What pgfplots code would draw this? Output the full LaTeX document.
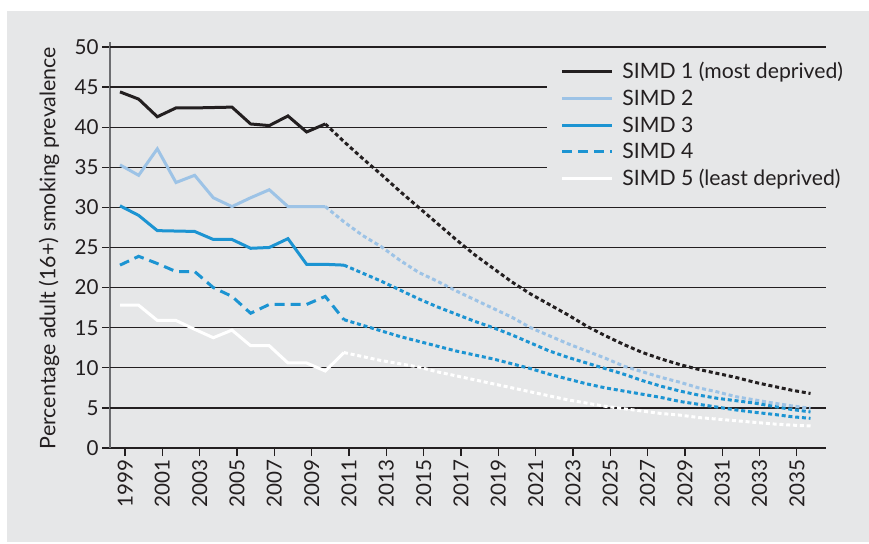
\documentclass[border=0pt]{standalone}
\usepackage{fontspec}
\setmainfont{Lato}
\usepackage{pgfplots}
\pgfplotsset{compat=1.18}
\definecolor{bg}{HTML}{E6E7E8}
\definecolor{simdblack}{HTML}{231F20}
\definecolor{simdlight}{HTML}{9DC3E6}
\definecolor{simdmid}{HTML}{1C94D2}
\definecolor{axisgray}{HTML}{6D6E71}

\begin{document}
\begin{tikzpicture}
\fill[white] (-55pt,-47.5pt) rectangle (379.5pt,224pt);
\fill[bg] (-51.5pt,-47pt) rectangle (379.5pt,218.5pt);
\begin{axis}[
  at={(0,0)}, anchor=south west,
  scale only axis, width=358pt, height=203pt,
  xmin=1998.464, xmax=2036.83, ymin=0, ymax=50.62,
  axis x line=bottom, axis y line=left,
  axis line style={-},
  x axis line style={simdblack, line width=0.6pt},
  y axis line style={axisgray, line width=1pt},
  ytick={0,5,...,50},
  xtick={1999.27,2001.27,2003.27,2005.27,2007.27,2009.27,2011.27,2013.27,2015.27,2017.27,2019.27,2021.27,2023.27,2025.27,2027.27,2029.27,2031.27,2033.27,2035.27},
  xticklabels={1999,2001,2003,2005,2007,2009,2011,2013,2015,2017,2019,2021,2023,2025,2027,2029,2031,2033,2035},
  tick align=outside, major tick length=4pt,
  tick style={simdblack, line width=0.6pt},
  /pgf/number format/assume math mode=true,
  ticklabel style={font=\fontsize{10.3}{12}\selectfont, text=simdblack},
  xticklabel style={rotate=90, anchor=east, inner sep=1.5pt},
  yticklabel style={inner sep=1.5pt},
  every axis plot/.append style={line width=1.5pt},
]
% horizontal grid; the three under the legend stop short of it
\pgfplotsinvokeforeach{5,10,15,20,25,30,50}{
  \draw[simdblack, line width=0.6pt] (axis cs:1998.464,#1) -- (axis cs:2036.83,#1);
}
\pgfplotsinvokeforeach{35,40,45}{
  \draw[simdblack, line width=0.6pt] (axis cs:1998.464,#1) -- (axis cs:2021.88,#1);
}
% observed
\addplot[simdblack] coordinates {(1999,44.4)(2000,43.5)(2001,41.3)(2002,42.4)(2003,42.4)(2004,42.45)(2005,42.5)(2006,40.4)(2007,40.2)(2008,41.4)(2009,39.4)(2010,40.4)};
\addplot[simdlight] coordinates {(1999,35.3)(2000,34.0)(2001,37.3)(2002,33.1)(2003,34.0)(2004,31.2)(2005,30.1)(2006,31.2)(2007,32.2)(2008,30.1)(2009,30.1)(2010,30.1)};
\addplot[simdmid] coordinates {(1999,30.2)(2000,29.0)(2001,27.1)(2002,27.05)(2003,27.0)(2004,26.0)(2005,26.0)(2006,24.9)(2007,25.0)(2008,26.1)(2009,22.9)(2010,22.9)(2011,22.8)};
\addplot[simdmid, dash pattern=on 5pt off 3pt] coordinates {(1999,22.8)(2000,23.9)(2001,23.0)(2002,22.0)(2003,22.0)(2004,20.0)(2005,18.9)(2006,16.8)(2007,17.9)(2008,17.9)(2009,17.9)(2010,18.9)(2011,16.0)};
\addplot[white] coordinates {(1999,17.8)(2000,17.8)(2001,15.9)(2002,15.9)(2003,14.8)(2004,13.75)(2005,14.7)(2006,12.75)(2007,12.75)(2008,10.6)(2009,10.6)(2010,9.6)(2011,11.9)};
% projections
\addplot[simdblack, dash pattern=on 2pt off 1.4pt] coordinates {(2010,40.4)(2011,38.2)(2012,36.1)(2013,34.1)(2014,32.0)(2015,30.0)(2016,28.0)(2017,26.0)(2018,24.1)(2019,22.4)(2020,20.7)(2021,19.2)(2022,17.9)(2023,16.6)(2024,15.2)(2025,14.0)(2026,12.9)(2027,11.9)(2028,11.1)(2029,10.4)(2030,9.8)(2031,9.3)(2032,8.8)(2033,8.2)(2034,7.7)(2035,7.2)(2036,6.8)};
\addplot[simdlight, dash pattern=on 2pt off 1.4pt] coordinates {(2010,30.1)(2011,28.2)(2012,26.5)(2013,25.1)(2014,23.4)(2015,21.9)(2016,20.8)(2017,19.6)(2018,18.5)(2019,17.4)(2020,16.3)(2021,15.0)(2022,14.0)(2023,13.0)(2024,12.1)(2025,11.2)(2026,10.2)(2027,9.5)(2028,8.8)(2029,8.2)(2030,7.5)(2031,7.0)(2032,6.4)(2033,6.0)(2034,5.6)(2035,5.25)(2036,4.95)};
\addplot[simdmid, dash pattern=on 2pt off 1.4pt] coordinates {(2011,22.8)(2012,21.8)(2013,20.8)(2014,19.7)(2015,18.6)(2016,17.6)(2017,16.7)(2018,15.8)(2019,15.0)(2020,14.1)(2021,13.1)(2022,12.1)(2023,11.3)(2024,10.6)(2025,9.9)(2026,9.2)(2027,8.4)(2028,7.7)(2029,7.1)(2030,6.6)(2031,6.2)(2032,5.9)(2033,5.6)(2034,5.2)(2035,4.8)(2036,4.5)};
\addplot[simdmid, dash pattern=on 2pt off 1.4pt] coordinates {(2011,16.0)(2012,15.3)(2013,14.6)(2014,13.9)(2015,13.3)(2016,12.7)(2017,12.1)(2018,11.6)(2019,11.1)(2020,10.5)(2021,9.9)(2022,9.2)(2023,8.6)(2024,8.0)(2025,7.5)(2026,7.1)(2027,6.7)(2028,6.3)(2029,5.8)(2030,5.45)(2031,5.1)(2032,4.75)(2033,4.45)(2034,4.2)(2035,3.9)(2036,3.7)};
\addplot[white, dash pattern=on 2pt off 1.4pt] coordinates {(2011,11.9)(2012,11.4)(2013,10.9)(2014,10.5)(2015,10.1)(2016,9.5)(2017,9.0)(2018,8.5)(2019,8.0)(2020,7.5)(2021,7.0)(2022,6.5)(2023,6.0)(2024,5.6)(2025,5.2)(2026,4.9)(2027,4.6)(2028,4.3)(2029,4.1)(2030,3.8)(2031,3.6)(2032,3.4)(2033,3.2)(2034,3.0)(2035,2.85)(2036,2.75)};
\end{axis}
% legend
\begin{scope}[line width=1.5pt]
  \draw[simdblack] (226pt,188.5pt) -- (251pt,188.5pt);
  \draw[simdlight] (226pt,175pt) -- (251pt,175pt);
  \draw[simdmid] (226pt,161.5pt) -- (251pt,161.5pt);
  \draw[simdmid, dash pattern=on 5pt off 3pt] (226pt,148.5pt) -- (251pt,148.5pt);
  \draw[white] (226pt,135pt) -- (251pt,135pt);
\end{scope}
\begin{scope}[every node/.style={anchor=base west, inner sep=0pt, font=\fontsize{10.6}{12}\selectfont, text=simdblack}]
  \node at (256pt,184.8pt) {SIMD 1 (most deprived)};
  \node at (256pt,171.3pt) {SIMD 2};
  \node at (256pt,157.8pt) {SIMD 3};
  \node at (256pt,144.8pt) {SIMD 4};
  \node at (256pt,131.3pt) {SIMD 5 (least deprived)};
\end{scope}
\node[rotate=90, font=\fontsize{10.7}{12}\selectfont, text=simdblack] at (-30.5pt,100pt) {Percentage adult (16+) smoking prevalence};
\pgfresetboundingbox
\useasboundingbox (-55pt,-47.5pt) rectangle (379.5pt,224pt);
\end{tikzpicture}
\end{document}
